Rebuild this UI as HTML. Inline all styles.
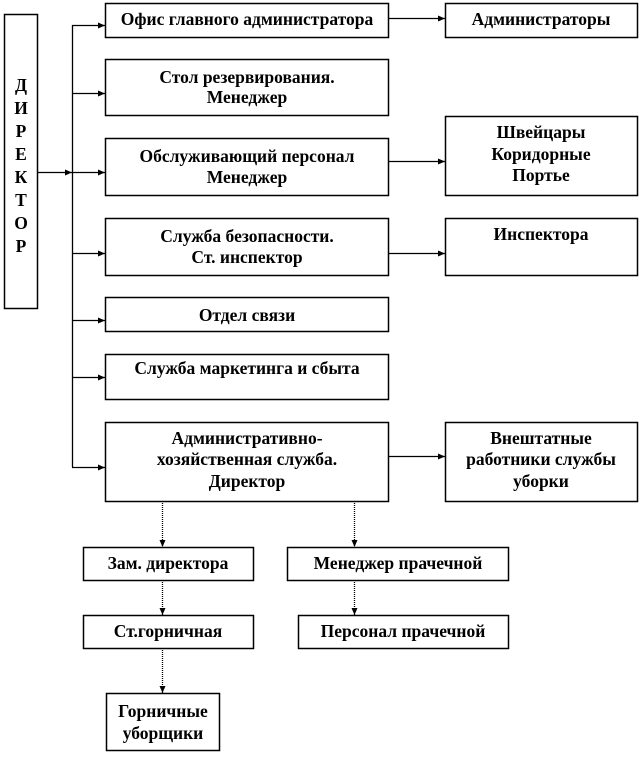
<!DOCTYPE html>
<html><head><meta charset="utf-8"><style>
html,body{margin:0;padding:0;background:#fff}
svg text{font-family:"Liberation Serif",serif;font-weight:bold;font-size:17.5px;fill:#000;text-anchor:middle}
</style></head><body>
<svg width="641" height="754" viewBox="0 0 641 754" xmlns="http://www.w3.org/2000/svg">
<defs><marker id="a" markerWidth="8" markerHeight="8" refX="7" refY="4" orient="auto" markerUnits="userSpaceOnUse"><path d="M0,1 L7,4 L0,7 z" fill="#000"/></marker></defs>
<g fill="#fff" stroke="#000" stroke-width="1.5">
<rect x="4.5" y="14.5" width="33" height="294"/>
<rect x="105.5" y="3.5" width="283" height="34"/>
<rect x="105.5" y="59.5" width="283" height="56"/>
<rect x="105.5" y="138.5" width="283" height="57"/>
<rect x="105.5" y="218.5" width="283" height="57"/>
<rect x="105.5" y="297.5" width="283" height="34"/>
<rect x="105.5" y="354.5" width="283" height="45"/>
<rect x="105.5" y="422.5" width="283" height="79"/>
<rect x="445.5" y="3.5" width="192" height="34"/>
<rect x="445.5" y="116.5" width="192" height="79"/>
<rect x="445.5" y="218.5" width="192" height="57"/>
<rect x="445.5" y="422.5" width="192" height="79"/>
<rect x="83.5" y="547.5" width="170" height="33"/>
<rect x="287.5" y="547.5" width="221" height="33"/>
<rect x="83.5" y="615.5" width="170" height="33"/>
<rect x="298.5" y="615.5" width="210" height="33"/>
<rect x="106.5" y="693.5" width="113" height="57"/>
</g>
<g stroke="#000" stroke-width="1.3" fill="none">
<path d="M72.5,25 V467"/>
<path d="M38,172.5 H72" marker-end="url(#a)"/>
<path d="M72,25.5 H105" marker-end="url(#a)"/>
<path d="M72,93.5 H105" marker-end="url(#a)"/>
<path d="M72,172.5 H105" marker-end="url(#a)"/>
<path d="M72,253.5 H105" marker-end="url(#a)"/>
<path d="M72,320.5 H105" marker-end="url(#a)"/>
<path d="M72,377.5 H105" marker-end="url(#a)"/>
<path d="M72,467.5 H105" marker-end="url(#a)"/>
<path d="M388,18.5 H445" marker-end="url(#a)"/>
<path d="M388,161.5 H445" marker-end="url(#a)"/>
<path d="M388,253.5 H445" marker-end="url(#a)"/>
<path d="M388,456.5 H445" marker-end="url(#a)"/>
<path d="M162.5,501 V547" stroke-dasharray="1,1" marker-end="url(#a)"/>
<path d="M354.5,501 V547" stroke-dasharray="1,1" marker-end="url(#a)"/>
<path d="M162.5,580 V615" stroke-dasharray="1,1" marker-end="url(#a)"/>
<path d="M354.5,580 V615" stroke-dasharray="1,1" marker-end="url(#a)"/>
<path d="M162.5,648 V693" stroke-dasharray="1,1" marker-end="url(#a)"/>
</g>
<g style="font-size:17px">
<text x="21" y="91">Д</text><text x="21" y="114">И</text><text x="21" y="137">Р</text><text x="21" y="160">Е</text><text x="21" y="183">К</text><text x="21" y="206">Т</text><text x="21" y="229">О</text><text x="21" y="252">Р</text>
</g>
<text x="247" y="25">Офис главного администратора</text>
<text x="247" y="83">Стол резервирования.</text><text x="247" y="103">Менеджер</text>
<text x="247" y="162">Обслуживающий персонал</text><text x="247" y="183">Менеджер</text>
<text x="247" y="242">Служба безопасности.</text><text x="247" y="263">Ст. инспектор</text>
<text x="247" y="321">Отдел связи</text>
<text x="247" y="374">Служба маркетинга и сбыта</text>
<text x="247" y="444">Административно-</text><text x="247" y="465">хозяйственная служба.</text><text x="247" y="487">Директор</text>
<text x="541" y="25">Администраторы</text>
<text x="541" y="138">Швейцары</text><text x="541" y="160">Коридорные</text><text x="541" y="181">Портье</text>
<text x="541" y="240">Инспектора</text>
<text x="541" y="444">Внештатные</text><text x="541" y="465">работники службы</text><text x="541" y="487">уборки</text>
<text x="168" y="569">Зам. директора</text>
<text x="398" y="569">Менеджер прачечной</text>
<text x="168" y="637">Ст.горничная</text>
<text x="403" y="637">Персонал прачечной</text>
<text x="163" y="717">Горничные</text><text x="163" y="739">уборщики</text>
</svg>
</body></html>
